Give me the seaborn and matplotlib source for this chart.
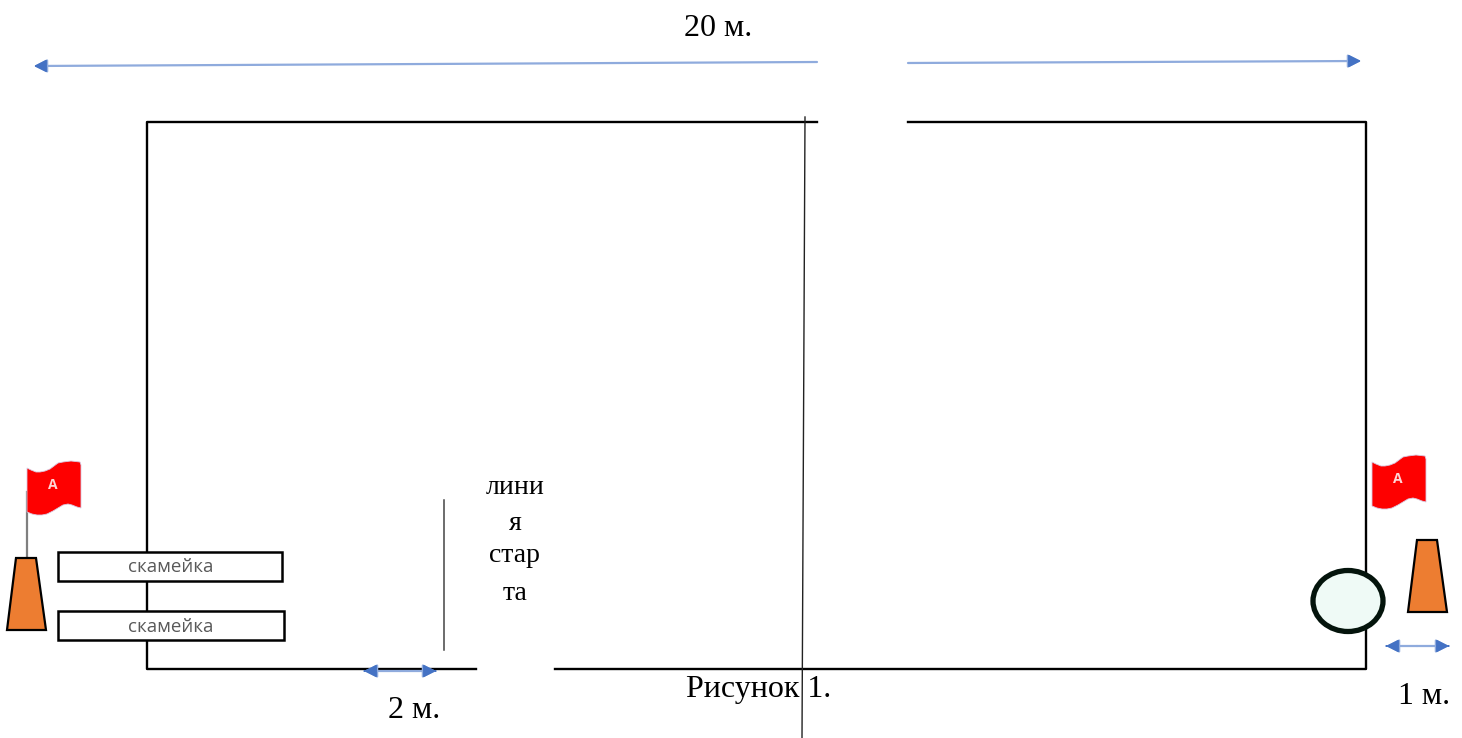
import matplotlib
matplotlib.use('Agg')
import pandas as pd
import matplotlib.pyplot as plt
import seaborn as sns
from matplotlib.patches import Polygon, Ellipse, Rectangle

court_x = [817, 147, 147, 476]
court_y = [122, 122, 669, 669]
court2_x = [908, 1366, 1366, 555]
court2_y = [122, 122, 669, 669]
centre_x = [805, 802]
centre_y = [117, 738]
start_x = [444, 444]
start_y = [500, 650]
pole_x = [27, 27]
pole_y = [492, 557]

arrows = [
    (817, 62, 34, 66),
    (908, 63, 1361, 61),
    (400, 671, 364, 671),
    (400, 671, 436, 671),
    (1417, 646, 1386, 646),
    (1417, 646, 1449, 646),
]

bench_labels = ['скамейка', 'скамейка']
bench_x = [58, 58]
bench_y = [552, 611]
bench_w = [224, 226]
bench_h = [29, 29]

flag_dx = [0, 4, 9, 13, 18, 23, 27, 31, 36, 44, 53, 54, 54, 50, 45, 41, 36, 31, 26, 20, 15, 10, 5, 0]
flag_dy = [7, 9, 11, 11, 10, 8, 5, 2, 1, 0, 1, 4, 47, 46, 44, 43, 44, 47, 50, 53, 54, 54, 53, 51]
flag_x0 = [27, 1372]
flag_y0 = [461, 455]

cone_dx = [-20, -11, 9, 19]
cone_dy = [72, 0, 0, 72]
cone_x0 = [27, 1428]
cone_y0 = [558, 540]

labels = ['20 м.', 'Рисунок 1.', '2 м.', '1 м.']
labels_x = [718, 759, 414, 1424]
labels_y = [29, 690, 711, 697]
start_words = ['лини', 'я', 'стар', 'та']
start_words_y = [488, 523, 556, 593]

BLUE = '#4472C4'

fig, ax = plt.subplots(figsize=(14.62, 7.38), dpi=100)
ax.set_position([0, 0, 1, 1])
ax.set_xlim(0, 1462)
ax.set_ylim(738, 0)
ax.axis('off')

segs = pd.concat([
    pd.DataFrame({'x': court_x, 'y': court_y, 'seg': 'a', 'o': range(4)}),
    pd.DataFrame({'x': court2_x, 'y': court2_y, 'seg': 'b', 'o': range(4)}),
])
for name, g in segs.groupby('seg'):
    sns.lineplot(data=g, x='x', y='y', sort=False, estimator=None, color='black', lw=1.7, ax=ax)
sns.lineplot(x=centre_x, y=centre_y, sort=False, estimator=None, color='#222222', lw=1.0, ax=ax)
sns.lineplot(x=start_x, y=start_y, sort=False, estimator=None, color='#444444', lw=1.1, ax=ax)
sns.lineplot(x=pole_x, y=pole_y, sort=False, estimator=None, color='#7f7f7f', lw=1.6, ax=ax)
ax.set_xlabel('')
ax.set_ylabel('')

for x0, y0, x1, y1 in arrows:
    ax.annotate('', xy=(x1, y1), xytext=(x0, y0),
                arrowprops=dict(arrowstyle='-|>,head_length=0.55,head_width=0.28', color='#8fabdd',
                                lw=1.6, shrinkA=0, shrinkB=0, mutation_scale=14))
    # darker head on top of the pale shaft
    ax.annotate('', xy=(x1, y1), xytext=(x1 + (x0 - x1) * 0.01, y1 + (y0 - y1) * 0.01),
                arrowprops=dict(arrowstyle='-|>,head_length=0.55,head_width=0.28', color=BLUE,
                                lw=1.0, shrinkA=0, shrinkB=0, mutation_scale=14))

for x0, y0 in zip(flag_x0, flag_y0):
    pts = [(x0 + a, y0 + b) for a, b in zip(flag_dx, flag_dy)]
    ax.add_patch(Polygon(pts, closed=True, fc='#fe0000', ec='#d8c8e0', lw=0.6, zorder=3))
    ax.text(x0 + 26, y0 + 24, 'A', color='#ffd5d5', fontsize=10, ha='center', va='center',
            family='Open Sans', weight='bold', zorder=4)

for x0, y0 in zip(cone_x0, cone_y0):
    pts = [(x0 + a, y0 + b) for a, b in zip(cone_dx, cone_dy)]
    ax.add_patch(Polygon(pts, closed=True, fc='#ed7d31', ec='black', lw=1.6, zorder=3))

for lab, x, y, w, h in zip(bench_labels, bench_x, bench_y, bench_w, bench_h):
    ax.add_patch(Rectangle((x, y), w, h, fc='white', ec='black', lw=1.8, zorder=3))
    ax.text(171, y + h / 2 + 1, lab, color='#595959', fontsize=13.5, ha='center',
            va='center', family='Open Sans', zorder=4)

ax.add_patch(Ellipse((1348, 601), 70, 61, fc='#effaf6', ec='#04140c', lw=3.8, zorder=3))

for lab, x, y in zip(labels, labels_x, labels_y):
    ax.text(x, y, lab, fontsize=23, ha='center', va='center', family='Liberation Serif', color='black')
for word, y in zip(start_words, start_words_y):
    ax.text(515, y, word, fontsize=20, ha='center', va='center', family='Liberation Serif', color='black')

fig.savefig('out.png', dpi=100)
